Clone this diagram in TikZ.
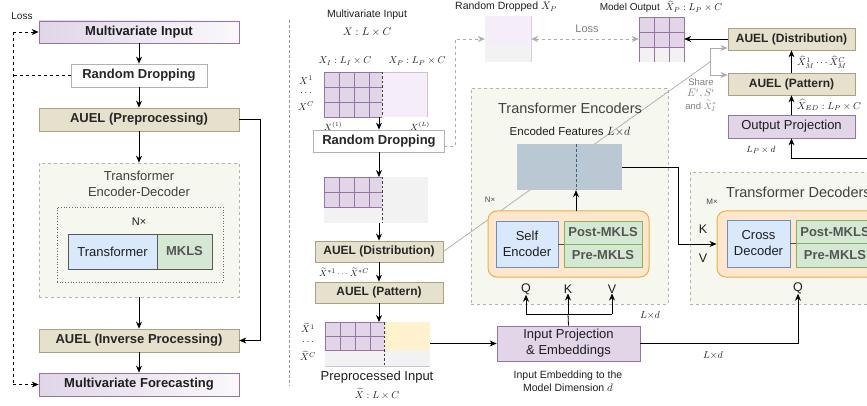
\documentclass[tikz,border=0pt]{standalone}
\usepackage{amsmath}
\usepackage{fontspec}
\setmainfont{Liberation Sans}
\usetikzlibrary{arrows.meta,calc}
\newcommand\fsz[2]{\fontsize{#1}{#2}\selectfont}
\definecolor{pfill}{HTML}{E1D5E7}
\definecolor{pdraw}{HTML}{9673A6}
\definecolor{tfill}{HTML}{E6E1CC}
\definecolor{tdraw}{HTML}{A8A185}
\definecolor{bfill}{HTML}{DAE8FC}
\definecolor{bdraw}{HTML}{6C8EBF}
\definecolor{gfill}{HTML}{D5E8D4}
\definecolor{gdraw}{HTML}{82B366}
\definecolor{ofill}{HTML}{FFE6CC}
\definecolor{odraw}{HTML}{E3B348}
\definecolor{cfill}{HTML}{F6F7EE}
\definecolor{efill}{HTML}{BAC8D3}
\definecolor{edash}{HTML}{3E6180}
\definecolor{lpur}{HTML}{F5EEF9}
\definecolor{lgray}{HTML}{F2F2F2}
\definecolor{yfill}{HTML}{FFF2CC}
\definecolor{txt}{HTML}{1E1E1E}
\definecolor{mtxt}{HTML}{555555}
\begin{document}
\begin{tikzpicture}[x=1pt,y=-1pt,
  ln/.style={line width=0.8pt},
  arr/.style={line width=0.8pt,-{Stealth[length=7pt,width=6pt]}},
  garr/.style={line width=0.7pt,draw=gray!65,-{Stealth[length=7pt,width=6pt]}},
  gln/.style={line width=0.7pt,draw=gray!65},
  box/.style={draw,line width=0.8pt,inner sep=0pt,align=center,text=txt},
  pbox/.style={box,fill=pfill,draw=pdraw},
  grad/.style={box,draw=pdraw,left color=pfill,right color=pfill!15,font=\bfseries\fsz{13}{15}},
  tbox/.style={box,fill=tfill,draw=tdraw,font=\bfseries\fsz{13}{15},text=black!85},
  wbox/.style={box,fill=white,draw=gray!60,font=\bfseries\fsz{13}{15},text=black!85},
  cont/.style={draw=gray!60,dashed,fill=cfill,line width=0.7pt,inner sep=0pt},
  blbox/.style={box,fill=bfill,draw=bdraw,font=\fsz{13}{16}},
  grbox/.style={box,fill=gfill,draw=gdraw,font=\bfseries\fsz{13}{15},text=mtxt},
  orbox/.style={draw=odraw,fill=ofill,line width=1pt,rounded corners=9pt,inner sep=0pt},
  lab/.style={inner sep=0pt,text=txt},
  cdash/.style={draw=black!75,dashed,dash pattern=on 2.5pt off 2pt,line width=1pt},
  gcell/.style={draw=pdraw,line width=0.8pt}
]
\useasboundingbox (0,0) rectangle (867,406);
\clip (0,0) rectangle (867,406);

%% ================= LEFT PANEL =================
\node[grad,minimum width=200pt,minimum height=22pt] (mi) at (139,32) {Multivariate Input};
\node[wbox,minimum width=136pt,minimum height=23pt] (rd) at (139,75.5) {Random Dropping};
\node[tbox,minimum width=200pt,minimum height=23pt] (ap) at (139,119.5) {AUEL (Preprocessing)};
\node[cont,minimum width=200pt,minimum height=134pt] (ted) at (139,230) {};
\node[lab,font=\fsz{13}{16},align=center,text=black!75] (tedl) at (139,184) {Transformer\\Encoder-Decoder};
\node[draw=black!60,dotted,line width=0.7pt,minimum width=166pt,minimum height=75pt,inner sep=0pt] (nx) at (140,244.5) {};
\node[lab,font=\fsz{11}{13}] (nxl) at (139,222) {N×};
\node[box,fill=bfill,draw=black!65,minimum width=89pt,minimum height=35pt,font=\fsz{13}{15}] (tr) at (112.5,251.5) {Transformer};
\node[box,fill=gfill,draw=black!65,minimum width=55pt,minimum height=35pt,font=\bfseries\fsz{13}{15},text=mtxt] (mk) at (184.5,251.5) {MKLS};
\node[tbox,minimum width=200pt,minimum height=23pt] (ai) at (139,340.5) {AUEL (Inverse Processing)};
\node[grad,minimum width=200pt,minimum height=23pt] (mf) at (139,384.5) {Multivariate Forecasting};

\draw[arr] (mi.south) -- (rd.north);
\draw[arr] (rd.south) -- (ap.north);
\draw[arr] (ap.south) -- (ted.north);
\draw[arr] (ted.south) -- (ai.north);
\draw[arr] (ai.south) -- (mf.north);
\draw[arr] (ap.east) -- ++(21,0) |- (ai.east);

\coordinate (lt) at (13,32);
\coordinate (lb) at (13,384.5);
\draw[ln,dashed] (lt) -- (lb);
\draw[arr,dashed] (lt) -- (mi.west);
\draw[arr,dashed] (lb) -- (mf.west);
\draw[ln,dashed] (rd.west) -- (rd.west -| lt);
\node[lab,font=\fsz{10}{12}] (lossl) at (22,16) {Loss};

\draw[gray!80,dashed,line width=0.7pt,dash pattern=on 3pt off 2pt] (289,20) -- (289,386);

%% ================= MIDDLE: INPUT GRIDS =================
\node[lab,font=\fsz{10.5}{12}] (mil) at (367,15) {Multivariate Input};
\node[lab,font=\fsz{11}{13}] (mim) at (367,32) {$X : L\times C$};
\node[lab,font=\fsz{10}{12}] (xil) at (345,61) {$X_I : L_I\times C$};
\node[lab,font=\fsz{10}{12}] (xpl) at (417,61) {$X_P : L_P\times C$};
\node[lab,font=\fsz{10}{12}] (x1) at (306,80) {$X^1$};
\node[lab,font=\fsz{10}{12}] (xd) at (306,93) {$\ldots$};
\node[lab,font=\fsz{10}{12}] (xc) at (306,106) {$X^C$};
\node[lab,font=\fsz{9}{11}] (x1b) at (333,126) {$X^{(1)}$};
\node[lab,font=\fsz{9}{11}] (xlb) at (420,126) {$X^{(L)}$};

% grid 1
\fill[pfill] (324,72) rectangle (382,117);
\fill[lpur] (382,72) rectangle (427,117);
\draw[pdraw!45,line width=0.8pt] (382,72) -- (427,72) -- (427,117);
\foreach \x in {324,339,354,369} \draw[gcell] (\x,72) -- (\x,117);
\foreach \y in {72,87,102,117} \draw[gcell] (324,\y) -- (382,\y);
\draw[cdash] (382,72) -- (382,117);

\node[wbox,minimum width=131pt,minimum height=22pt] (rd2) at (379,141) {Random Dropping};
\coordinate (g1b) at (379,117);
\draw[arr] (g1b) -- (rd2.north);

% grid 2
\fill[lgray] (324,177) rectangle (428,223);
\fill[pfill] (324,177) rectangle (382,207);
\foreach \x in {324,339,354,369} \draw[gcell] (\x,177) -- (\x,207);
\foreach \y in {177,192,207} \draw[gcell] (324,\y) -- (382,\y);
\draw[cdash] (382,177) -- (382,223);
\coordinate (g2t) at (379,177);
\coordinate (g2b) at (379,223);
\draw[arr] (rd2.south) -- (g2t);

\node[tbox,font=\bfseries\fsz{12}{14},minimum width=128pt,minimum height=21pt] (ad) at (379,251.5) {AUEL (Distribution)};
\draw[arr] (g2b) -- (ad.north);
\node[lab,font=\fsz{9.5}{11}] (xsl) at (344,272.5) {$\widetilde{X}^{*1}\cdots\widetilde{X}^{*C}$};
\node[tbox,font=\bfseries\fsz{12}{14},minimum width=128pt,minimum height=21pt] (apn) at (379,292.5) {AUEL (Pattern)};
\draw[arr] (ad.south) -- (apn.north);

% grid 3
\fill[lgray] (325,322) rectangle (430,366);
\fill[pfill] (325,322) rectangle (384,350);
\fill[yfill] (384,322) rectangle (430,350);
\foreach \x in {325,340,355,370} \draw[gcell] (\x,322) -- (\x,350);
\foreach \y in {322,336,350} \draw[gcell] (325,\y) -- (384,\y);
\draw[pdraw!45,line width=0.8pt] (325,366) -- (430,366);
\draw[cdash] (384,322) -- (384,366);
\coordinate (g3t) at (379,322);
\draw[arr] (apn.south) -- (g3t);
\node[lab,font=\fsz{10}{12}] (xt1) at (308,328) {$\widetilde{X}^1$};
\node[lab,font=\fsz{10}{12}] (xtd) at (308,342) {$\ldots$};
\node[lab,font=\fsz{10}{12}] (xtc) at (308,356) {$\widetilde{X}^C$};
\node[lab,font=\fsz{13}{15}] (ppl) at (377,377) {Preprocessed Input};
\node[lab,font=\fsz{10}{12}] (ppm) at (377,394) {$\widetilde{X} : L\times C$};

%% ================= TOP: DROPPED / OUTPUT =================
\node[lab,font=\fsz{10.5}{12}] (rdpl) at (506,7) {Random Dropped $X_P$};
\fill[lpur] (485,16) rectangle (531,45);
\fill[lgray] (485,45) rectangle (531,62);
\draw[pdraw!35,line width=0.8pt] (531,16) -- (531,62);
\node[inner sep=0pt,minimum width=46pt,minimum height=46pt] (rdp) at (508,39) {};

\node[lab,font=\fsz{10}{12}] (mol) at (661,7) {Model Output\ \ $\widehat{X}_P : L_P\times C$};
\fill[lgray] (639,47) rectangle (684,62);
\fill[pfill] (639,17) rectangle (684,47);
\foreach \x in {639,654,669,684} \draw[gcell] (\x,17) -- (\x,62);
\foreach \y in {17,32,47} \draw[gcell] (639,\y) -- (684,\y);
\node[inner sep=0pt,minimum width=45pt,minimum height=46pt] (mo) at (661.5,39) {};

\coordinate (rdo) at (444,146);
\draw[garr,dashed] (rdo) -- (455,146) |- (rdp.west);
\draw[gln,dashed,{Stealth[length=7pt,width=6pt]}-{Stealth[length=7pt,width=6pt]}] (rdp.east) -- (mo.west);
\node[lab,font=\fsz{11}{13},text=gray] (lossm) at (587,29) {Loss};

%% ================= RIGHT TOP: OUTPUT STACK =================
\node[tbox,font=\bfseries\fsz{12}{14},minimum width=127pt,minimum height=22pt] (dist) at (791.5,39) {AUEL (Distribution)};
\node[tbox,font=\bfseries\fsz{12}{14},minimum width=127pt,minimum height=22pt] (pat) at (791.5,84) {AUEL (Pattern)};
\node[pbox,font=\fsz{13}{15},minimum width=127pt,minimum height=23pt] (op) at (791.5,126.5) {Output Projection};
\draw[arr] (dist.west) -- (mo.east);
\draw[arr] (pat.north) -- (dist.south);
\draw[arr] (op.north) -- (pat.south);
\node[lab,font=\fsz{10}{12},anchor=west] (xml) at (797,62.5) {$\widehat{X}^1_M\cdots\widehat{X}^C_M$};
\node[lab,font=\fsz{10}{12},anchor=west] (xedl) at (797,105) {$\widehat{X}_{ED} : L_P\times C$};
\coordinate (opin) at (870,158);
\draw[arr] (opin) -| (op.south);
\node[lab,font=\fsz{9.5}{11}] (lpd) at (761,150) {$L_P\times d$};

%% ================= CONTAINERS =================
\node[cont,minimum width=197pt,minimum height=216pt] (encc) at (569.5,196) {};
\node[cont,minimum width=210pt,minimum height=132pt] (decc) at (795,238) {};

% share line
\coordinate (sh0) at (710,62);
\coordinate (sh1) at (710,48);
\coordinate (sh2) at (710,75);
\draw[gln] (ad.east) -- (sh0);
\draw[gln] (sh1) -- (sh2);
\draw[garr] (sh1) -- (sh1 -| dist.west);
\draw[garr] (sh2) -- (sh2 -| pat.west);
\node[lab,font=\fsz{9.5}{11},text=gray,align=center] (shl) at (701,82) {Share};
\node[lab,font=\fsz{10.5}{12},text=gray] (shl2) at (701,93) {$E^i, S^i$};
\node[lab,font=\fsz{9.5}{11},text=gray] (shl3) at (701,106) {and $\widetilde{X}^*_I$};

%% ================= INPUT PROJECTION =================
\node[pbox,font=\fsz{13}{16},minimum width=143pt,minimum height=35pt] (ip) at (568.5,343.5) {Input Projection\\\& Embeddings};
\node[lab,font=\fsz{10.5}{13},align=center] (ipn) at (568,381) {Input Embedding to the\\Model Dimension $d$};
\coordinate (g3r) at (430,343.5);
\draw[arr] (g3r) -- (ip.west);

%% ================= ENCODER =================
\node[lab,font=\fsz{14.5}{17},text=black!75] (encl) at (570,108) {Transformer Encoders};
\node[lab,font=\fsz{11.5}{13}] (efl) at (570,132) {Encoded Features $L{\times}d$};
\node[draw=none,fill=efill,minimum width=105pt,minimum height=46pt,inner sep=0pt] (enc) at (569.5,167) {};
\draw[draw=edash,dashed,line width=1pt,dash pattern=on 3pt off 2pt] (576,144) -- (576,190);
\node[lab,font=\fsz{8}{10},text=black!70] (nxe) at (490,200) {N×};
\node[orbox,minimum width=161pt,minimum height=66pt] (oe) at (568.5,244) {};
\node[blbox,minimum width=62pt,minimum height=46pt] (se) at (527,244) {Self\\Encoder};
\node[grbox,minimum width=78pt,minimum height=23pt] (post) at (603,232.5) {Post-MKLS};
\node[grbox,minimum width=78pt,minimum height=23pt] (pre) at (603,255.5) {Pre-MKLS};
\draw[line width=1pt,black!70] (se.east) -- (se.east -| pre.west);
\coordinate (eup) at (576,211);
\draw[arr] (eup) -- (eup |- enc.south);
\node[lab,font=\fsz{12.5}{14}] (q1) at (526,289) {Q};
\node[lab,font=\fsz{12.5}{14}] (k1) at (568,289) {K};
\node[lab,font=\fsz{12.5}{14}] (v1) at (612,289) {V};
\coordinate (j) at (568,314);
\draw[ln] (ip.north) -- (j);
\draw[ln] (j -| q1) -- (j -| v1);
\draw[arr] (j -| q1) -- (q1.south);
\draw[arr] (j) -- (k1.south);
\draw[arr] (j -| v1) -- (v1.south);
\node[lab,font=\fsz{10}{12}] (ld1) at (650,315) {$L{\times}d$};

%% ================= DECODER =================
\node[lab,font=\fsz{14.5}{17},text=black!75,anchor=west] (decl) at (726,192) {Transformer Decoders};
\node[lab,font=\fsz{8}{10},text=black!70] (mxd) at (712,202) {M×};
\node[orbox,minimum width=203pt,minimum height=66pt] (od) at (818.5,244) {};
\node[blbox,minimum width=63pt,minimum height=47pt] (cd) at (758.5,243.5) {Cross\\Decoder};
\node[grbox,minimum width=78pt,minimum height=23.5pt] (post2) at (835,231.75) {Post-MKLS};
\node[grbox,minimum width=78pt,minimum height=23.5pt] (pre2) at (835,255.25) {Pre-MKLS};
\draw[line width=1pt,black!70] (cd.east) -- (cd.east -| pre2.west);
\node[lab,font=\fsz{12.5}{14}] (kd) at (703,229) {K};
\node[lab,font=\fsz{12.5}{14}] (vd) at (703,258) {V};
\node[lab,font=\fsz{12.5}{14}] (q2) at (798,288) {Q};
\draw[arr] (enc.east) -- ++(56,0) |- (od.west);
\draw[arr] (ip.east) -| (q2.south);
\node[lab,font=\fsz{10}{12}] (ld2) at (713,355) {$L{\times}d$};
\end{tikzpicture}
\end{document}
